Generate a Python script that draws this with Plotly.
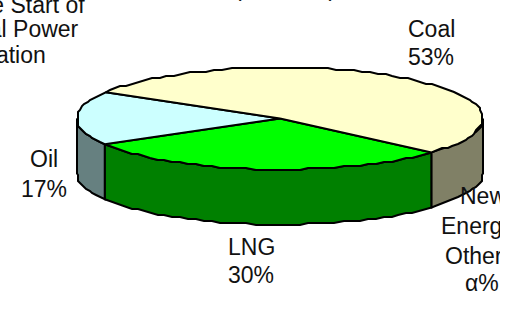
import math
import plotly.graph_objects as go

# Fuel mix shares, in the order they run around the pie
fuels = ["LNG", "Oil", "Coal"]
shares = [30, 17, 53]
top_colors = ["#00ff00", "#ccffff", "#ffffcc"]
side_colors = ["#008000", "#668080", "#808066"]

W, H = 511, 326
CX, CY, RX, RY, DEPTH = 280, 118.5, 203, 51, 55
START_DEG = 41.7
SNAP = 2
FONT = dict(family="Liberation Sans, Arial, sans-serif", size=23, color="#111111")


def rim(a0, a1, drop=0.0):
    """Points along the ellipse between two angles, snapped to a coarse grid."""
    n = max(2, int(abs(a1 - a0) / 2.5))
    pts = []
    for i in range(n + 1):
        a = math.radians(a0 + (a1 - a0) * i / n)
        x = CX + RX * math.cos(a)
        y = CY + RY * math.sin(a)
        if 0 < i < n:
            x = round(x / SNAP) * SNAP
            y = round(y / SNAP) * SNAP
        pts.append((x, y + drop))
    return pts


fig = go.Figure()


def poly(pts, fill):
    fig.add_trace(go.Scatter(
        x=[p[0] for p in pts] + [pts[0][0]],
        y=[p[1] for p in pts] + [pts[0][1]],
        mode="lines", fill="toself", fillcolor=fill,
        line=dict(color="black", width=2),
        hoverinfo="skip", showlegend=False,
    ))


# Slice angles derived from the shares
bounds = [START_DEG]
for s in shares:
    bounds.append(bounds[-1] + s * 3.6)

# Side walls: only the front half (0..180 degrees, and 360..540 on the wrap) is visible
for i, color in enumerate(side_colors):
    for lo, hi in ((0, 180), (360, 540)):
        a0, a1 = max(bounds[i], lo), min(bounds[i + 1], hi)
        if a1 > a0:
            upper = rim(a0, a1)
            lower = rim(a0, a1, DEPTH)
            poly(upper + lower[::-1], color)

# Top faces
for i, color in enumerate(top_colors):
    poly([(CX, CY)] + rim(bounds[i], bounds[i + 1]), color)

# Callout text
label_lines = ["Coal", "53%"]
lng_lines = ["LNG", "30%"]
oil_lines = ["Oil", "17%"]
new_lines = ["New", "Energy,", "Others", "α%"]
note_lines = ["Before the Start of", "Commercial Power", "Generation"]
heading = "(Fuel Mix)"


def note(text, x, y, anchor="center"):
    fig.add_annotation(
        x=x / W, y=1 - y / H, xref="paper", yref="paper",
        text=text, showarrow=False, xanchor=anchor, yanchor="middle",
        font=FONT, borderpad=0, borderwidth=0,
    )


for t, y in zip(label_lines, (28.5, 57.5)):
    note(t, 431, y)
for t, y in zip(lng_lines, (247.5, 274.5)):
    note(t, 251, y)
for t, y in zip(oil_lines, (159.5, 188.5)):
    note(t, 44, y)
for t, x, y in zip(new_lines, (483, 480, 479, 482), (195.5, 225.5, 255.5, 282.5)):
    note(t, x, y)
for t, right, y in zip(note_lines, (85, 79, 46), (4.5, 28.5, 54.5)):
    note(t, right, y, "right")
note(heading, 285, -12)

# The chart frame ends short of the window's right edge
fig.add_annotation(
    x=500 / W, y=1 - 150 / H, xref="paper", yref="paper", text=" ", showarrow=False,
    xanchor="left", yanchor="top", width=11, height=176, bgcolor="white",
    borderpad=0, borderwidth=0, font=dict(size=10),
)

fig.update_layout(
    width=W, height=H, margin=dict(l=0, r=0, t=0, b=0),
    paper_bgcolor="white", plot_bgcolor="white", showlegend=False,
    xaxis=dict(range=[0, W], visible=False, fixedrange=True),
    yaxis=dict(range=[H, 0], visible=False, fixedrange=True),
)
fig.write_html("out.html", config={"displayModeBar": False})
